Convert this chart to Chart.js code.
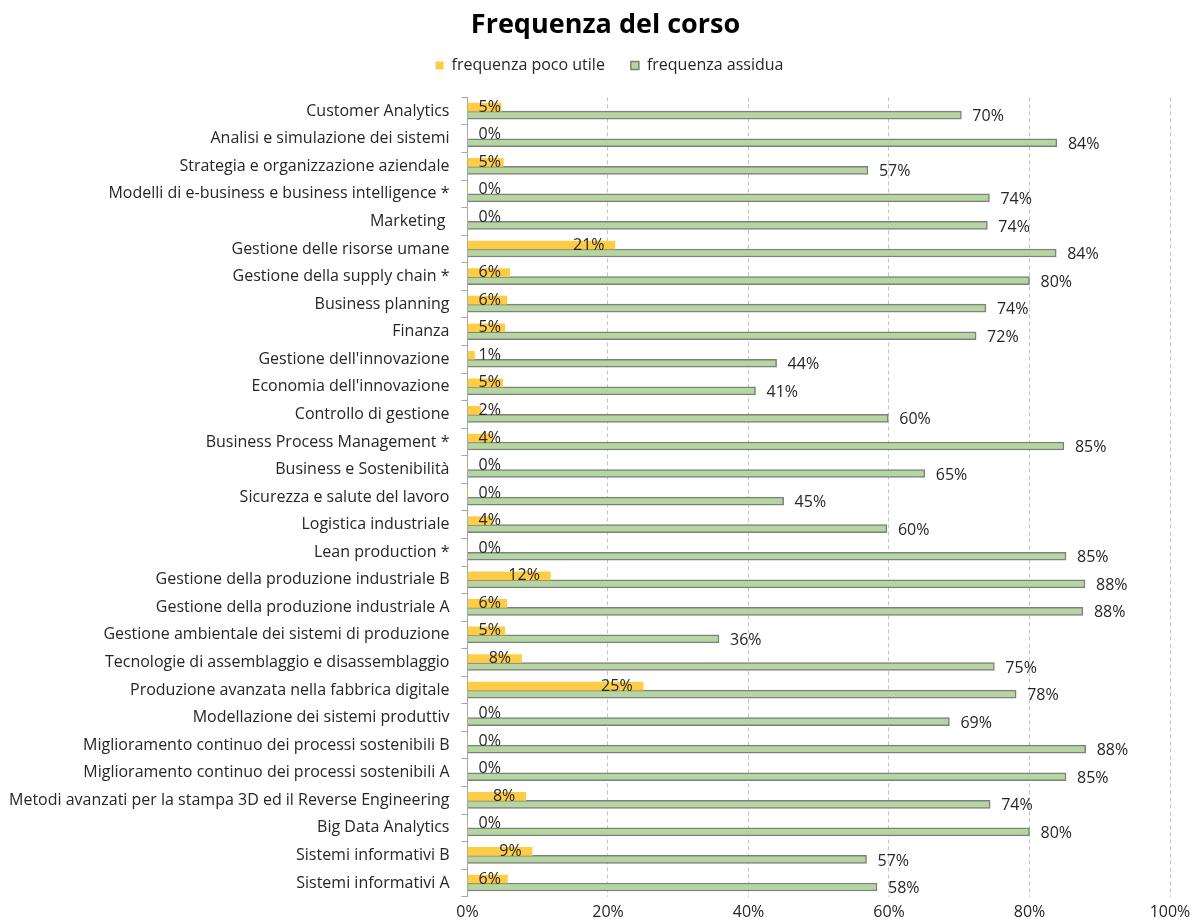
<!DOCTYPE html>
<html><head><meta charset="utf-8">
<script src="https://cdn.jsdelivr.net/npm/chart.js@4.4.0/dist/chart.umd.min.js"></script>
<style>html,body{margin:0;padding:0;background:#fff}#wrap{width:1192px;height:922px;position:relative}</style>
</head><body><div id="wrap"><canvas id="c"></canvas></div>
<script>
const categories = [
  "Customer Analytics",
  "Analisi e simulazione dei sistemi",
  "Strategia e organizzazione aziendale",
  "Modelli di e-business e business intelligence *",
  "Marketing ",
  "Gestione delle risorse umane",
  "Gestione della supply chain *",
  "Business planning",
  "Finanza",
  "Gestione dell'innovazione",
  "Economia dell'innovazione",
  "Controllo di gestione",
  "Business Process Management *",
  "Business e Sostenibilità",
  "Sicurezza e salute del lavoro",
  "Logistica industriale",
  "Lean production *",
  "Gestione della produzione industriale B",
  "Gestione della produzione industriale A",
  "Gestione ambientale dei sistemi di produzione",
  "Tecnologie di assemblaggio e disassemblaggio",
  "Produzione avanzata nella fabbrica digitale",
  "Modellazione dei sistemi produttiv",
  "Miglioramento continuo dei processi sostenibili B",
  "Miglioramento continuo dei processi sostenibili A",
  "Metodi avanzati per la stampa 3D ed il Reverse Engineering",
  "Big Data Analytics",
  "Sistemi informativi B",
  "Sistemi informativi A"
];
const pocoUtile = [4.8, 0, 5.1, 0, 0, 21.0, 6.0, 5.6, 5.3, 1.0, 5.0, 1.9, 3.6, 0, 0, 3.6, 0, 11.8, 5.6, 5.3, 7.7, 25.0, 0, 0, 0, 8.3, 0, 9.2, 5.7];
const assidua = [70.3, 83.9, 57.0, 74.3, 74.0, 83.8, 80.0, 73.8, 72.4, 44.0, 41.0, 59.9, 84.9, 65.1, 45.0, 59.7, 85.2, 87.9, 87.6, 35.8, 75.0, 78.1, 68.6, 88.0, 85.2, 74.4, 80.0, 56.8, 58.3];
const seriesNames = ["frequenza poco utile", "frequenza assidua"];
const xTickValues = [0, 20, 40, 60, 80, 100];
const chartTitle = "Frequenza del corso";

const FONT = '"Open Sans"';
const TXT = '#262626';

const labelPlugin = {
  id: 'vals',
  afterDatasetsDraw(chart) {
    const {ctx, chartArea} = chart;
    ctx.save();
    ctx.font = '16px ' + FONT;
    ctx.fillStyle = TXT;
    ctx.textBaseline = 'middle';
    ctx.textAlign = 'left';
    chart.data.datasets.forEach((ds, di) => {
      const meta = chart.getDatasetMeta(di);
      meta.data.forEach((bar, i) => {
        const txt = Math.round(ds.data[i]) + '%';
        const w = ctx.measureText(txt).width;
        if (di === 0) {
          const x = Math.max(bar.x - 10.5 - w, chartArea.left + 11);
          ctx.fillText(txt, x, bar.y);
        } else {
          ctx.fillText(txt, bar.x + 11, bar.y + 1.5);
        }
      });
    });
    ctx.restore();
  }
};

const headerShift = {
  id: 'headerShift',
  beforeInit(chart) {
    const lg = chart.legend;
    if (!lg) return;
    const fit = lg.fit;
    lg.fit = function () { fit.call(this); this.height += 14; };
  },
  afterLayout(chart) {
    if (chart.titleBlock) { chart.titleBlock.left += 11; chart.titleBlock.right += 11; }
    if (chart.legend) { chart.legend.left += 15; chart.legend.right += 15; }
  }
};

new Chart(document.getElementById('c'), {
  type: 'bar',
  data: {
    labels: categories,
    datasets: [
      { label: seriesNames[0], data: pocoUtile, backgroundColor: '#FFCD45', borderWidth: 0, barThickness: 8 },
      { label: seriesNames[1], data: assidua, backgroundColor: '#B5D6A0', borderColor: '#7F7F7F', borderWidth: 1.5, barThickness: 8 }
    ]
  },
  options: {
    indexAxis: 'y',
    responsive: true,
    maintainAspectRatio: false,
    animation: false,
    layout: { padding: { left: -3, right: 0, top: 4, bottom: -6 } },
    plugins: {
      title: { display: true, text: chartTitle, color: '#000', font: { family: FONT, size: 27, weight: 'bold' }, padding: { top: 5, bottom: -10 } },
      legend: { display: true, position: 'top', labels: { color: TXT, font: { family: FONT, size: 16 }, boxWidth: 8, boxHeight: 8, padding: 26 } },
      tooltip: { enabled: false }
    },
    scales: {
      x: {
        type: 'linear', min: 0, max: 100,
        afterBuildTicks: (s) => { s.ticks = xTickValues.map(v => ({ value: v })); },
        afterFit: (s) => { s.paddingRight = 22; },
        ticks: { callback: v => v + '%', color: TXT, font: { family: FONT, size: 16 }, padding: 6, maxRotation: 0 },
        grid: { color: c => c.index === 0 ? 'rgba(0,0,0,0)' : '#c4c4c4', lineWidth: 1, drawTicks: false },
        border: { display: false, dash: [4, 3] }
      },
      y: {
        type: 'category',
        ticks: { color: TXT, font: { family: FONT, size: 16 }, padding: 12, autoSkip: false },
        grid: { display: true, drawOnChartArea: false, offset: true, tickLength: 6, color: '#a6a6a6' },
        border: { display: true, color: '#a6a6a6' }
      }
    }
  },
  plugins: [labelPlugin, headerShift]
});
</script>
</body></html>
